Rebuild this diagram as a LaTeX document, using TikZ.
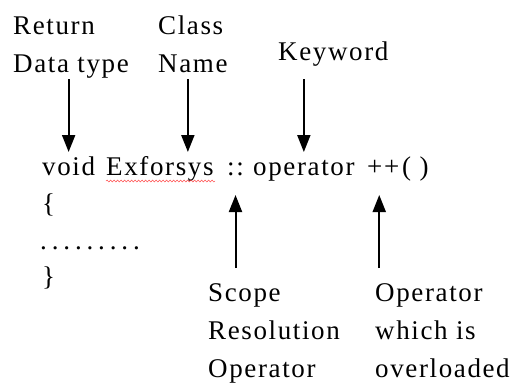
\documentclass[tikz,border=0pt]{standalone}
\usepackage{fontspec}
\setmainfont{Liberation Serif}[LetterSpace=6]
\usepackage{tikz}
\usetikzlibrary{arrows.meta,decorations.pathmorphing}
\tikzset{
	txt/.style={inner sep=0pt, align=left, font=\fontsize{27}{38}\selectfont},
	arr/.style={line width=2pt, -{Triangle[width=13pt,length=17pt]}},
}

\begin{document}
\begin{tikzpicture}[x=1pt, y=-1pt]
			%%%%% START %%%%%
			\useasboundingbox[fill=white] (0, 0) rectangle (516, 383);
			
			% labels above (base = last line)
			\node[txt, anchor=base west] (ret) at (13, 72) {Return\\Data type};
			\node[txt, anchor=base west] (cls) at (158, 72) {Class\\Name};
			\node[txt, anchor=base west] (key) at (278, 60) {Keyword};
			
			% code
			\node[txt, anchor=base west] (void) at (42, 175) {void};
			\node[txt, anchor=base west] (ex) at (106, 175) {Exforsys};
			\node[txt, anchor=base west] (cc) at (227, 175) {::};
			\node[txt, anchor=base west] (op) at (253, 175) {operator};
			\node[txt, anchor=base west] (pp) at (367, 175) {++};
			\node[txt, anchor=base west] (par) at (402, 175) {( )};
			\node[txt, anchor=base west] (lb) at (42, 212) {\{};
			\node[txt, anchor=base west, font=\fontsize{27}{38}\selectfont\addfontfeature{LetterSpace=18}] (dots) at (40, 249) {.........};
			\node[txt, anchor=base west] (rb) at (42, 285) {\}};
			
			\draw[red!80, decorate, decoration={snake, amplitude=1pt, segment length=3.5pt}] (106, 181) -- (215, 181);
			
			% labels below
			\node[txt, anchor=base west] (scope) at (208, 377) {Scope\\Resolution\\Operator};
			\node[txt, anchor=base west] (ovl) at (375, 377) {Operator\\which is\\overloaded};
			
			% arrows
			\coordinate (dntail) at (0, 79);
			\coordinate (dnhead) at (0, 152);
			\coordinate (uptail) at (0, 268);
			\coordinate (uphead) at (0, 195);
			
			\draw[arr] (void |- dntail) -- (void |- dnhead);
			\draw[arr] ([xshift=28pt]ex.north |- dntail) -- ([xshift=28pt]ex.north |- dnhead);
			\draw[arr] (op |- dntail) -- (op |- dnhead);
			\draw[arr] (cc |- uptail) -- (cc |- uphead);
			\draw[arr] ([xshift=-4pt]pp.south |- uptail) -- ([xshift=-4pt]pp.south |- uphead);
			
			%%%%% END %%%%%
\end{tikzpicture}
\end{document}
